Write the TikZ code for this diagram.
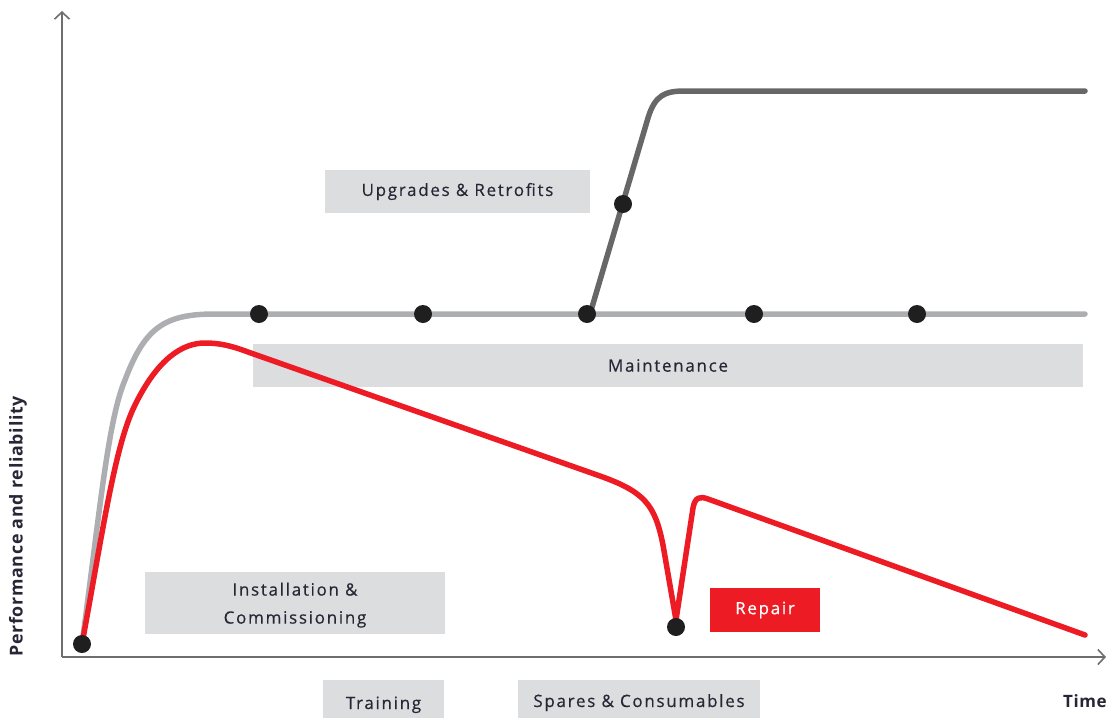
\documentclass[tikz,border=0pt]{standalone}
\usepackage{fontspec}
\setmainfont{Open Sans}
\newfontfamily\boxfont[LetterSpace=10,FakeBold=0.4]{Open Sans}
\newfontfamily\axfont[LetterSpace=4]{Open Sans}
\usetikzlibrary{arrows.meta}
\definecolor{axisc}{HTML}{6E6E6E}
\definecolor{boxc}{HTML}{DCDDDF}
\definecolor{txtc}{HTML}{262636}
\definecolor{curvegray}{HTML}{ADAEB2}
\definecolor{upgc}{HTML}{676767}
\definecolor{abbred}{HTML}{ED1C24}
\begin{document}
\begin{tikzpicture}[x=1pt,y=-1pt,
  axis/.style={draw=axisc,line width=2pt,-{Straight Barb[length=7pt,width=15pt,line width=1.6pt]}},
  labelbox/.style={fill=boxc,text=txtc,font=\boxfont\fontsize{17}{27}\selectfont,inner sep=0pt,align=center},
  dot/.style={circle,fill=black!88,inner sep=0pt,minimum size=18pt},
  curve/.style={line width=5.5pt,line cap=round,line join=round}]
\useasboundingbox (0,0) rectangle (1117,718);
% boxes
\node[labelbox,minimum width=265pt,minimum height=43pt] (upg) at (457.5,191.5) {Upgrades \& Retrofits};
\node[labelbox,minimum width=830pt,minimum height=43pt] (maint) at (668,365.5) {Maintenance};
\node[labelbox,minimum width=300pt,minimum height=62pt] (inst) at (295,603) {\raisebox{-5.5pt}[0pt][0pt]{\begin{tabular}{@{}c@{}}Installation \&\\[1pt]Commissioning\end{tabular}}};
\node[labelbox,minimum width=121pt,minimum height=38pt] (train) at (383.5,699) {\raisebox{-10pt}[0pt][0pt]{Training}};
\node[labelbox,minimum width=242pt,minimum height=38pt] (spares) at (639,699) {\raisebox{-8pt}[0pt][0pt]{Spares \& Consumables}};
\node[labelbox,fill=abbred,text=white,minimum width=110pt,minimum height=44pt] (repair) at (765,610) {Repair};
% axes
\coordinate (origin) at (62,657);
\coordinate (ytop) at (62,11);
\coordinate (xend) at (1106,657);
\draw[axis] (origin) -- (ytop);
\draw[axis] (origin) -- (xend);
\node[rotate=90,text=txtc,font=\axfont\bfseries\fontsize{17.8}{19}\selectfont,anchor=west,inner sep=0pt] (ylab) at (18,657) {Performance and reliability};
\node[text=txtc,font=\axfont\bfseries\fontsize{17}{19}\selectfont,anchor=east,inner sep=0pt] (xlab) at (1107,701) {Time};
% coordinates
\coordinate (start) at (82,644);
\coordinate (branch) at (590,314);
% gray curve
\draw[curve,curvegray] (start) .. controls (100,510) and (108,420) .. (125,380)
  .. controls (145,327) and (165,314) .. (215,314) -- (1085,314);
% upgrade curve
\draw[curve,upgc] (branch) -- (648,118) .. controls (655,95) and (665,91) .. (685,91) -- (1085,91);
% red curve
\draw[curve,abbred] (start) .. controls (103,530) and (115,445) .. (135,405)
  .. controls (158,358) and (183,343) .. (205,343)
  .. controls (220,343) and (232,346) .. (248,352)
  -- (600,476) .. controls (645,492) and (655,505) .. (663,545)
  -- (676,620) -- (693,508) .. controls (695,497) and (700,496) .. (708,499)
  -- (1085,635);
% dots
\node[dot] (d0) at (start) {};
\node[dot] (d1) at (259,314) {};
\node[dot] (d2) at (423,314) {};
\node[dot] (d3) at (587,314) {};
\node[dot] (d4) at (754,314) {};
\node[dot] (d5) at (917,314) {};
\node[dot] (d6) at (623,204) {};
\node[dot] (d7) at (676,627) {};
\end{tikzpicture}
\end{document}
